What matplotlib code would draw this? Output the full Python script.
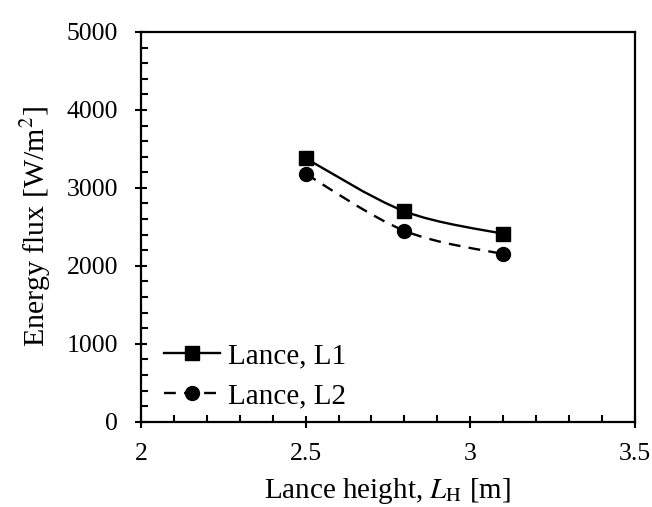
import matplotlib
matplotlib.use('Agg')
import matplotlib.pyplot as plt
import numpy as np
from matplotlib.path import Path
from matplotlib.patches import PathPatch
from matplotlib.lines import Line2D
from matplotlib.ticker import MultipleLocator

plt.rcParams['font.family'] = ['Liberation Serif', 'DejaVu Serif']
plt.rcParams['mathtext.fontset'] = 'stix'

# 数据
lance_height = [2.5, 2.8, 3.1]
flux_l1 = [3380, 2700, 2410]
flux_l2 = [3180, 2450, 2150]
labels = ['Lance, L1', 'Lance, L2']


# Excel 风格的平滑曲线 (贝塞尔)
def smooth_path(x, y):
    p = np.column_stack([x, y]).astype(float)
    n = len(p)
    verts = [p[0]]
    codes = [Path.MOVETO]
    for i in range(n - 1):
        p0 = p[i - 1] if i > 0 else p[i]
        p1 = p[i]
        p2 = p[i + 1]
        p3 = p[i + 2] if i + 2 < n else p[i + 1]
        c1 = p1 + (p2 - p0) / 6
        c2 = p2 - (p3 - p1) / 6
        verts += [c1, c2, p2]
        codes += [Path.CURVE4] * 3
    return Path(verts, codes)


fig = plt.figure(figsize=(6.52, 5.07), dpi=100)
ax = fig.add_axes([0.216, 0.168, 0.758, 0.769])

dash = (0, (5, 3.5))
ax.add_patch(PathPatch(smooth_path(lance_height, flux_l1), fill=False,
                       edgecolor='black', lw=1.7))
ax.add_patch(PathPatch(smooth_path(lance_height, flux_l2), fill=False,
                       edgecolor='black', lw=1.7, linestyle=dash))
ax.plot(lance_height, flux_l1, 's', color='black', ms=10, ls='none')
ax.plot(lance_height, flux_l2, 'o', color='black', ms=10, ls='none')

ax.set_xlim(2, 3.5)
ax.set_ylim(0, 5000)
ax.xaxis.set_minor_locator(MultipleLocator(0.1))
ax.yaxis.set_major_locator(MultipleLocator(1000))
ax.yaxis.set_minor_locator(MultipleLocator(200))
ax.set_xticks([2, 2.5, 3, 3.5], ['2', '2.5', '3', '3.5'])
ax.tick_params(which='major', direction='inout', length=9, width=1.5, labelsize=18.5)
ax.tick_params(which='minor', direction='in', length=5, width=1.5)
ax.tick_params(axis='x', pad=11)
ax.tick_params(axis='y', pad=12)
for s in ax.spines.values():
    s.set_linewidth(1.6)

ax.set_xlabel(r'Lance height, $\mathit{L}_\mathrm{H}$ [m]', fontsize=21, labelpad=8)
ax.set_ylabel(r'Energy flux [W/m$^2$]', fontsize=21.5, labelpad=10)

handles = [Line2D([], [], color='black', lw=1.7, marker='s', ms=10),
           Line2D([], [], color='black', lw=1.7, marker='o', ms=10, linestyle=dash)]
ax.legend(handles, labels, loc='lower left', frameon=False, fontsize=21,
          handlelength=1.9, handletextpad=0.3, labelspacing=0.45,
          borderaxespad=0.15, bbox_to_anchor=(0.015, -0.008))

fig.savefig('out.png', dpi=100)
